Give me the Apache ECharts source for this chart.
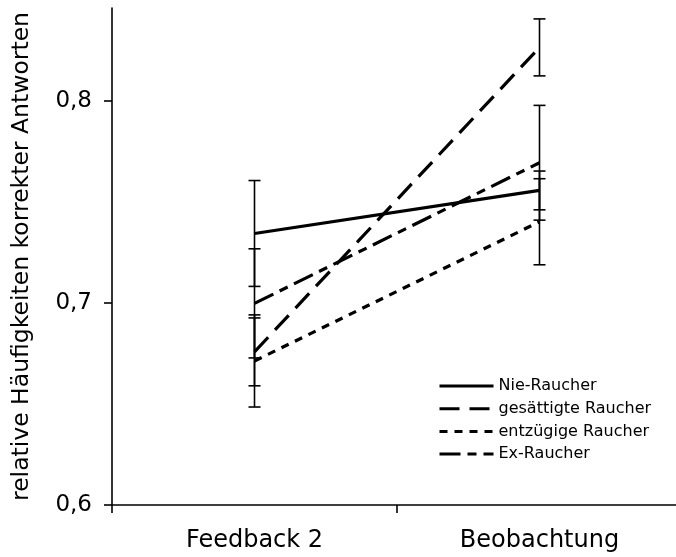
<!DOCTYPE html>
<html><head><meta charset="utf-8">
<script src="https://cdn.jsdelivr.net/npm/echarts@6/dist/echarts.min.js"></script>
<style>html,body{margin:0;padding:0;background:#fff}#c{width:676px;height:557px}</style>
</head><body><div id="c"></div>
<script>
const categories = ['Feedback 2', 'Beobachtung'];
const seriesNames = ['Nie-Raucher', 'gesättigte Raucher', 'entzügige Raucher', 'Ex-Raucher'];
const nieRaucher = [0.7344, 0.7557];
const gesaettigt = [0.6758, 0.8265];
const entzuegig = [0.6713, 0.7402];
const exRaucher = [0.6998, 0.7694];
const nieErr = [0.0262, 0.0096];
const gesErr = [0.0168, 0.0141];
const entErr = [0.0228, 0.0213];
const exErr = [0.0270, 0.0284];
const yTicks = [0.6, 0.7, 0.8];

const FONT = 'DejaVu Sans';
const values = [nieRaucher, gesaettigt, entzuegig, exRaucher];
const errs = [nieErr, gesErr, entErr, exErr];
const dashes = ['solid', [20, 10], [8, 7], [21, 7, 9, 7]];

const chart = echarts.init(document.getElementById('c'), null, {renderer: 'canvas'});

const errData = [];
values.forEach((v, s) => v.forEach((y, i) => errData.push([i, y - errs[s][i], y + errs[s][i]])));

const series = [];
series.push({
  type: 'custom', name: 'err', data: errData, silent: true, z: 1,
  renderItem: function (params, api) {
    const x = api.value(0);
    const lo = api.coord([x, api.value(1)]);
    const hi = api.coord([x, api.value(2)]);
    const hw = 6;
    const st = {stroke: '#000', lineWidth: 1.6};
    return {type: 'group', children: [
      {type: 'line', shape: {x1: lo[0], y1: lo[1], x2: hi[0], y2: hi[1]}, style: st},
      {type: 'line', shape: {x1: lo[0] - hw, y1: lo[1], x2: lo[0] + hw, y2: lo[1]}, style: st},
      {type: 'line', shape: {x1: hi[0] - hw, y1: hi[1], x2: hi[0] + hw, y2: hi[1]}, style: st}
    ]};
  }
});
seriesNames.forEach((n, s) => {
  series.push({
    type: 'line', name: n, data: values[s], symbol: 'none', z: 3 + (3 - s),
    lineStyle: {color: '#000', width: 3.2, type: dashes[s], cap: 'butt'},
    itemStyle: {color: '#000'}
  });
});

chart.setOption({
  animation: false,
  backgroundColor: '#fff',
  textStyle: {fontFamily: FONT, color: '#000'},
  grid: {left: 112, right: -6, top: 8, bottom: 52, containLabel: false, outerBoundsMode: 'none'},
  legend: {
    data: seriesNames, orient: 'vertical', left: 438, top: 378, padding: 0,
    itemWidth: 54, itemHeight: 14, itemGap: 6.7,
    itemStyle: {opacity: 0},
    lineStyle: {width: 3},
    textStyle: {fontFamily: FONT, fontSize: 16, color: '#000'}
  },
  xAxis: {
    type: 'category', data: categories, boundaryGap: true,
    axisLine: {lineStyle: {color: '#000', width: 1.6}},
    axisTick: {show: true, length: 8, lineStyle: {color: '#000', width: 1.6}},
    axisLabel: {fontFamily: FONT, fontSize: 24, color: '#000', margin: 24},
    splitLine: {show: false}
  },
  yAxis: {
    type: 'value', min: 0.6, max: 0.846, interval: 0.1,
    name: 'relative Häufigkeiten korrekter Antworten', nameLocation: 'middle', nameGap: 78,
    nameTextStyle: {fontFamily: FONT, fontSize: 23.5, color: '#000'},
    axisLine: {show: true, lineStyle: {color: '#000', width: 1.6}},
    axisTick: {show: true, length: 8, customValues: yTicks, lineStyle: {color: '#000', width: 1.6}},
    axisLabel: {fontFamily: FONT, fontSize: 23, color: '#000', margin: 20, customValues: yTicks,
      formatter: v => v.toFixed(1).replace('.', ',')},
    splitLine: {show: false}
  },
  series: series
});
</script></body></html>
